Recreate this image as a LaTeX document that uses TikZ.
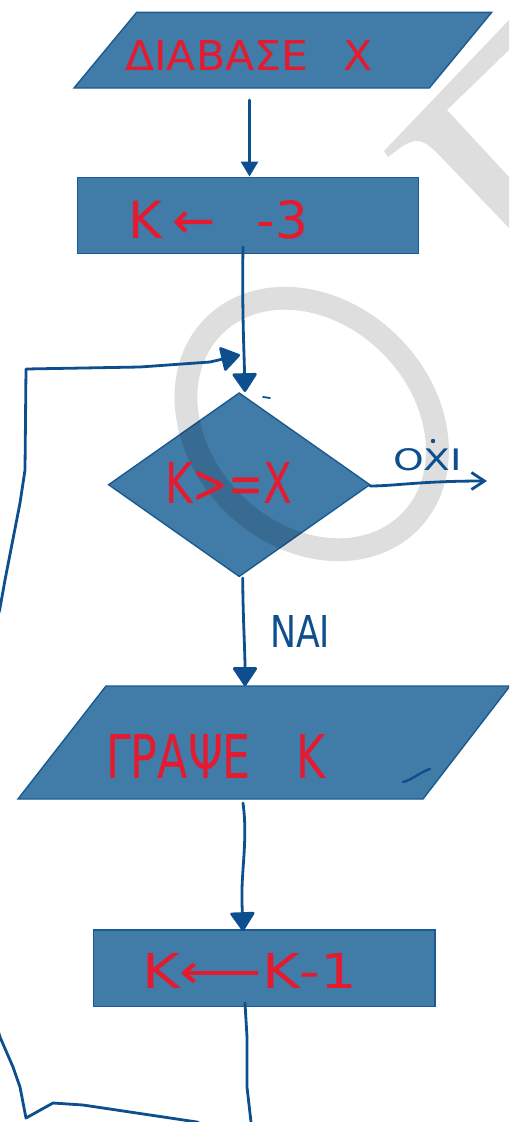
\documentclass[tikz,border=0pt]{standalone}
\usepackage{fontspec}
\setmainfont{DejaVu Sans}
\usetikzlibrary{arrows.meta,shapes.geometric}
\definecolor{boxfill}{HTML}{417BA7}
\definecolor{boxline}{HTML}{1B5A91}
\definecolor{ink}{HTML}{0D4F8E}
\definecolor{pen}{HTML}{E51A2E}
\begin{document}
\begin{tikzpicture}[x=1pt,y=-1pt,
  shapebox/.style={fill=boxfill,draw=boxline,line width=1.4pt,line join=miter,inner sep=0pt},
  inkline/.style={draw=ink,line width=2.8pt,line cap=round,line join=round},
  inktip/.style={-{Triangle[width=26pt,length=20pt,round]}},
  pentext/.style={anchor=base west,inner sep=0pt,text=pen},
  inktext/.style={anchor=base west,inner sep=0pt,text=ink},
  watermark/.style={fill=black,fill opacity=0.13}]
\useasboundingbox (0,0) rectangle (509,1122);
\clip (0,0) rectangle (509,1122);

% ---- boxes of the flowchart ----
\filldraw[shapebox] (136.7,12.3) -- (491.7,12.3) -- (429.3,88) -- (74,88) -- cycle;
\node[shapebox,rectangle,minimum width=341pt,minimum height=76pt] (init) at (247.8,215.3) {};
\node[shapebox,diamond,minimum width=261.7pt,minimum height=184pt] (test) at (239.2,484.7) {};
\filldraw[shapebox] (106,686) -- (510,686) -- (423,799) -- (18,799) -- cycle;
\node[shapebox,rectangle,minimum width=341.7pt,minimum height=76.7pt] (dec) at (264.2,968.4) {};

% ---- grey letters behind the chart ----
\fill[watermark] (509,20) -- (384,151) -- (388,157)
  .. controls (396,151) and (408,140) .. (418,141)
  .. controls (427,142) and (434,150) .. (441,157)
  -- (509,228) -- (509,177) -- (447,110) -- (509,50) -- cycle;
\fill[watermark,even odd rule,rotate around={45:(311.7,424)}]
  (311.7,424) ellipse [x radius=123, y radius=150]
  (311.7,424) ellipse [x radius=100, y radius=127];

% ---- connection points ----
\coordinate (read-out) at (249.5,100);
\coordinate (init-out) at (243,247);
\coordinate (test-in) at (245,392);
\coordinate (test-no) at (370,486);
\coordinate (no-end) at (487,481);
\coordinate (test-yes) at (242.7,578);
\coordinate (print-in) at (245,686);
\coordinate (print-out) at (243,803);
\coordinate (dec-in) at (243,931);
\coordinate (dec-out) at (245,1003);
\coordinate (loop-in) at (240,355);

% ---- connectors ----
\draw[inkline,-{Triangle[width=17pt,length=15pt]}] (read-out) -- (read-out |- init.north);
\draw[inkline,inktip] (init-out) .. controls (242,310) and (244,350) .. (test-in);
\draw[inkline,-{Straight Barb[length=13pt,width=17pt]}] (test-no) .. controls (395,486) and (420,481) .. (no-end);
\draw[inkline,inktip] (test-yes) .. controls (243,620) and (245,650) .. (print-in);
\draw[inkline,inktip] (print-out) .. controls (248,840) and (241,870) .. (242,903) -- (dec-in);
\draw[inkline,inktip] (dec-out) -- (247,1037) -- (247,1087) -- (251,1122) -- (251,1135)
  -- (215,1132) -- (197,1122) -- (150,1115) -- (83,1105) -- (53,1103) -- (26,1118)
  -- (20,1087) -- (13,1067) -- (0,1037) -- (-8,1010) -- (-8,640) -- (0,608) -- (5,580)
  -- (20,503) -- (25,470) -- (26,369) -- (140,367) -- (210,362) -- (loop-in);

% ---- stray pen strokes ----
\draw[inkline,line width=1.8pt] (263,397) -- (270,398);
\draw[inkline,line width=2.4pt] (403,782) .. controls (412,780) and (420,772) .. (430,769);

% ---- texts ----
\node[pentext] (readtxt) at (125,70) {\resizebox{247pt}{30pt}{ΔΙΑΒΑΣΕ\hspace{0.5em} Χ}};
\node[pentext] (inittxt) at (128,238) {\resizebox{180pt}{38pt}{Κ\hspace{0.2em}←\hspace{0.8em}-3}};
\node[pentext] (testtxt) at (165,503) {\resizebox{127pt}{41pt}{Κ>=Χ}};
\node[pentext] (printtxt) at (106,778) {\resizebox{219pt}{44pt}{ΓΡΑΨΕ\hspace{0.7em} Κ}};
\node[pentext] (dectxt) at (142,988) {\resizebox{215pt}{35pt}{Κ⟵Κ-1}};
\node[inktext] (notxt) at (393,470) {\resizebox{69pt}{22pt}{ΟΧΙ}};
\fill[ink] (433,441) circle (2.2pt);
\node[inktext] (yestxt) at (270,647) {\resizebox{60pt}{32pt}{ΝΑΙ}};
\end{tikzpicture}
\end{document}
